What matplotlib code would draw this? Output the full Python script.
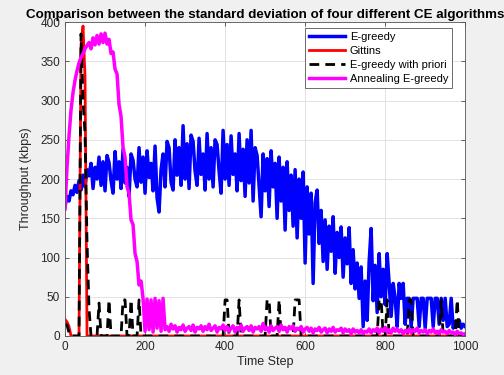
import numpy as np
import matplotlib
matplotlib.use("Agg")
import matplotlib.pyplot as plt

plt.rcParams['font.family'] = ['Liberation Sans', 'DejaVu Sans']

# time steps (sampled every 5 steps)
steps = list(range(0, 1001, 5))

egreedy = [
    165, 178, 172, 185, 180, 192, 183, 198, 186, 205,
    190, 212, 204, 220, 188, 215, 200, 228, 192, 222,
    185, 230, 221, 198, 182, 235, 200, 222, 188, 238,
    195, 215, 178, 232, 224, 200, 190, 240, 196, 228,
    182, 236, 202, 220, 185, 242, 176, 158, 212, 232,
    190, 248, 240, 196, 186, 250, 205, 240, 192, 268,
    200, 245, 188, 256, 248, 210, 192, 252, 206, 232,
    186, 258, 200, 240, 190, 250, 244, 210, 182, 262,
    200, 244, 192, 255, 206, 232, 185, 258, 198, 238,
    178, 250, 195, 262, 172, 240, 230, 190, 152, 232,
    185, 226, 165, 236, 190, 220, 150, 228, 172, 215,
    135, 222, 160, 205, 140, 212, 125, 200, 150, 209,
    93, 190, 130, 182, 67, 170, 186, 118, 160, 95,
    148, 85, 140, 108, 152, 80, 132, 100, 139, 75,
    125, 92, 138, 67, 110, 60, 93, 48, 88, 12,
    70, 20, 95, 137, 45, 90, 30, 105, 50, 85,
    40, 105, 67, 25, 67, 48, 12, 67, 48, 67,
    15, 48, 48, 12, 48, 48, 48, 12, 48, 48,
    10, 48, 48, 48, 12, 48, 48, 15, 48, 20,
    48, 12, 15, 48, 10, 18, 12, 20, 10, 15,
    12,
]

annealing = [
    162, 215, 255, 288, 310, 326, 338, 348, 355, 360,
    366, 370, 374, 366, 380, 371, 383, 372, 385, 374,
    386, 372, 378, 360, 362, 340, 334, 295, 280, 240,
    228, 190, 182, 148, 142, 105, 95, 65, 70, 48,
    6, 47, 8, 46, 5, 48, 10, 45, 6, 48,
    8,
    12, 6, 15, 9, 13, 5, 11, 8, 14, 6,
    10, 12, 7, 14, 5, 11, 9, 13, 6, 12,
    8, 15, 7, 10, 13, 5, 11, 9, 14, 7,
    12, 6, 10, 13, 5, 11, 8, 14, 6, 10,
    12, 7, 13, 5, 11, 9, 12, 6, 16, 8,
    11, 5, 13, 7, 10, 12, 6, 14, 8, 11,
    5, 12, 9, 13, 6, 10, 8, 12, 5, 9,
    11, 6, 10, 4, 9, 7, 11, 5, 8, 10,
    4, 9, 6, 11, 5, 8, 7, 10, 4, 9,
    6, 8, 3, 9, 5, 7, 4, 8, 3, 6,
    5, 9, 4, 8, 6, 10, 4, 9, 6, 11,
    5, 8, 4, 10, 6, 9, 5, 8, 3, 7,
    5, 9, 4, 8, 6, 10, 4, 7, 5, 8,
    3, 7, 5, 9, 4, 6, 3, 8, 5, 6,
    3, 7, 4, 5, 2, 6, 3, 4, 2, 3,
]

gittins_x = [0, 5, 10, 15, 35, 40, 45, 50, 55, 1000]
gittins_y = [21, 18, 12, 0, 0, 370, 395, 330, 0, 0]

priori_x = [0, 5, 10, 15, 35, 40, 45, 50, 55, 60, 65, 80, 85, 90, 105, 110, 115,
            140, 145, 150, 155, 160, 165, 170, 180, 185, 190, 395, 400, 405, 410,
            430, 435, 440, 500, 505, 510, 515, 530, 535, 540, 570, 575, 580, 585,
            590, 780, 785, 790, 795, 800, 805, 810, 855, 860, 865, 870, 935, 940,
            945, 975, 980, 985, 1000]
priori_y = [15, 14, 4, 0, 0, 385, 300, 258, 120, 35, 0, 0, 42, 0, 0, 46, 0,
            0, 46, 46, 0, 0, 46, 0, 0, 46, 0, 0, 46, 46, 0,
            0, 46, 0, 0, 46, 46, 0, 0, 46, 0, 0, 46, 46, 46,
            0, 0, 46, 46, 0, 0, 46, 0, 0, 46, 46, 0, 0, 46,
            0, 0, 46, 0, 0]

fig = plt.figure(figsize=(5.04, 3.75), dpi=100, facecolor='#f0f0f0')
ax = fig.add_axes([0.129, 0.104, 0.794, 0.837])
ax.set_facecolor('white')

ax.plot(steps, egreedy, color='#0000ff', lw=2.5, label='E-greedy')
ax.plot(gittins_x, gittins_y, color='#ff0000', lw=2, label='Gittins')
ax.plot(priori_x, priori_y, color='black', lw=2, dashes=(3.5, 2.2), label='E-greedy with priori')
ax.plot(steps, annealing, color='#ff00ff', lw=2.5, label='Annealing E-greedy')

ax.set_xlim(0, 1000)
ax.set_ylim(0, 400)
ax.set_xticks(range(0, 1001, 200))
ax.set_yticks(range(0, 401, 50))
ax.grid(True, color='#dedede', lw=0.6)
ax.set_axisbelow(True)
ax.tick_params(direction='in', top=True, right=True, labelsize=8.5,
               colors='#262626', length=3, width=0.5)
for s in ax.spines.values():
    s.set_color('#555555')
    s.set_linewidth(0.6)

ax.set_title('Comparison between the standard deviation of four different CE algorithms',
             fontsize=9.6, fontweight='bold', pad=3)
ax.set_xlabel('Time Step', fontsize=9, color='#262626', labelpad=2)
ax.set_ylabel('Throughput (kbps)', fontsize=9, color='#262626', labelpad=6)

leg = ax.legend(loc='upper right', bbox_to_anchor=(0.9675, 0.981), borderaxespad=0,
                fontsize=8, fancybox=False, framealpha=1, edgecolor='#555555',
                handlelength=3.3, handletextpad=0.4, labelspacing=0.35, borderpad=0.35)
leg.get_frame().set_linewidth(0.6)

fig.savefig('out.png', dpi=100, facecolor=fig.get_facecolor())
